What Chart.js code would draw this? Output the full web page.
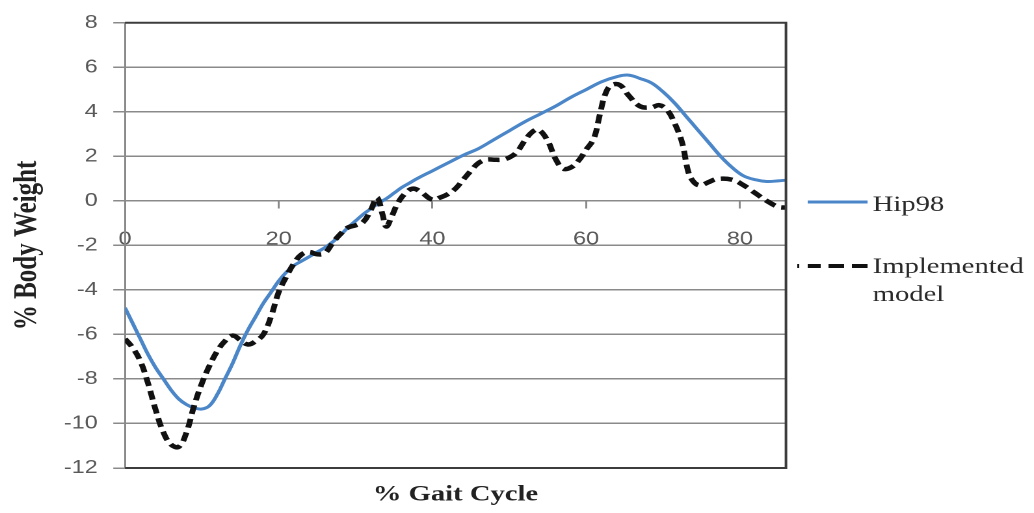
<!DOCTYPE html>
<html>
<head>
<meta charset="utf-8">
<script src="https://cdn.jsdelivr.net/npm/chart.js@4.4.1/dist/chart.umd.min.js"></script>
<style>
  html, body { margin: 0; padding: 0; background: #ffffff; overflow: hidden; }
  #wrap { position: absolute; left: 0; top: 0; width: 795px; height: 513px;
          transform: scaleX(1.3006); transform-origin: 0 0; }
  canvas { display: block; }
</style>
</head>
<body>
<div id="wrap"><canvas id="c" width="795" height="513" style="width:795px;height:513px"></canvas></div>
<script>
// ---- data ----
const seriesNames = ['Hip98', 'Implemented model'];
const hipX = [0,1,2,3,4,5,6,7,8,9,10,11,12,13,14,15,16,17,18,19,20,21,22,23,24,25,26,27,28,29,30,31,32,33,34,35,36,37,38,40,42,44,46,48,50,52,54,56,58,60,62,64,65.5,67,68.5,70,71.5,73,74.5,76,77.5,79,80.5,82,83.5,85,86];
const hipY = [-4.8,-5.5,-6.2,-6.9,-7.5,-8.0,-8.5,-8.9,-9.15,-9.3,-9.35,-9.2,-8.7,-8.0,-7.3,-6.5,-5.8,-5.2,-4.6,-4.1,-3.6,-3.2,-2.9,-2.7,-2.5,-2.3,-2.1,-1.85,-1.55,-1.2,-0.9,-0.6,-0.35,-0.1,0.1,0.35,0.6,0.8,1.0,1.35,1.7,2.05,2.35,2.75,3.15,3.55,3.9,4.25,4.65,5.0,5.35,5.58,5.65,5.5,5.3,4.9,4.4,3.8,3.2,2.6,2.0,1.5,1.12,0.95,0.87,0.9,0.93];
const modelX = [0,1,2,3,4,5,6,7,8,9,10,11,12,13,14,15,16,17,18,19,20,21,22,23,24,25,26,27,28,29,30,31,32,32.8,33.5,34,34.7,35.5,36.5,37.5,38.5,40,41,42,43,44,45,46,47,48,49,50,51,52,53,53.8,55,56,57,58,59,60,61,61.8,62.5,63.3,64.4,65.5,67,68.5,69.5,70.5,71.5,72.5,73.3,74,74.8,76,77,79,80.5,82,83.5,85,86];
const modelY = [-6.2,-6.6,-7.2,-8.2,-9.4,-10.4,-10.95,-11.05,-10.4,-9.2,-8.2,-7.4,-6.75,-6.3,-6.05,-6.25,-6.45,-6.3,-6.0,-5.2,-4.1,-3.4,-2.8,-2.4,-2.3,-2.4,-2.35,-1.9,-1.5,-1.2,-1.1,-0.95,-0.4,0.15,-0.6,-1.15,-0.7,-0.1,0.35,0.55,0.4,0.05,0.15,0.3,0.55,0.95,1.35,1.7,1.85,1.85,1.85,1.95,2.2,2.7,3.1,3.2,2.7,1.9,1.45,1.5,1.8,2.3,2.8,3.9,4.8,5.2,5.2,4.75,4.25,4.2,4.3,4.1,3.5,2.6,1.3,0.85,0.7,0.85,0.98,0.95,0.7,0.35,0.0,-0.27,-0.3];
const xMin = 0, xMax = 86, xStep = 20;
const yMin = -12, yMax = 8, yStep = 2;
const xTitle = '% Gait Cycle';
const yTitle = '% Body Weight';

const toPts = (xs, ys) => xs.map((x, i) => ({ x: x, y: ys[i] }));

const tickFont = { family: '"Liberation Sans", Arial, sans-serif', size: 18 };
const serif = '"Liberation Serif", "Times New Roman", serif';
const gridColor = '#8a8a8a';

const frameAndLegend = {
  id: 'frameAndLegend',
  afterDatasetsDraw(chart) {
    const ctx = chart.ctx, a = chart.chartArea;
    ctx.save();
    ctx.strokeStyle = '#3c3c3c';
    ctx.lineWidth = 2;
    ctx.beginPath();
    ctx.moveTo(a.left, a.top); ctx.lineTo(a.right, a.top);
    ctx.lineTo(a.right, a.bottom); ctx.lineTo(a.left, a.bottom);
    ctx.stroke();
    ctx.restore();
  },
  afterDraw(chart) {
    const ctx = chart.ctx;
    ctx.save();
    // Hip98 sample
    ctx.strokeStyle = '#4a86c8';
    ctx.lineWidth = 3;
    ctx.beginPath(); ctx.moveTo(621, 202); ctx.lineTo(667, 202); ctx.stroke();
    // Implemented model sample
    ctx.strokeStyle = '#111111';
    ctx.lineWidth = 4;
    const segs = [[613, 614.5], [621, 631], [637, 649], [655, 667]];
    ctx.beginPath();
    segs.forEach(s => { ctx.moveTo(s[0], 266); ctx.lineTo(s[1], 266); });
    ctx.stroke();
    ctx.fillStyle = '#2a2a2a';
    ctx.font = '22px ' + serif;
    ctx.textBaseline = 'middle';
    ctx.textAlign = 'left';
    ctx.fillText(seriesNames[0], 671, 205);
    ctx.fillText('Implemented', 671, 267);
    ctx.fillText('model', 671, 295);
    ctx.restore();
  }
};

new Chart(document.getElementById('c'), {
  type: 'line',
  data: {
    datasets: [
      {
        label: seriesNames[0],
        data: toPts(hipX, hipY),
        xAxisID: 'x', yAxisID: 'y',
        borderColor: '#4a86c8',
        borderWidth: 3,
        pointRadius: 0,
        fill: false,
        tension: 0.4,
        order: 2
      },
      {
        label: seriesNames[1],
        data: toPts(modelX, modelY),
        xAxisID: 'x', yAxisID: 'y',
        borderColor: '#111111',
        borderWidth: 4.5,
        borderDash: [9, 5],
        pointRadius: 0,
        fill: false,
        tension: 0.4,
        order: 1
      }
    ]
  },
  options: {
    responsive: false,
    animation: false,
    devicePixelRatio: 2,
    layout: { padding: { left: 0, right: 190.7, top: 20, bottom: 0 } },
    plugins: {
      legend: { display: false },
      tooltip: { enabled: false }
    },
    scales: {
      x: {
        type: 'linear',
        position: { y: 0 },
        min: xMin, max: xMax,
        ticks: { stepSize: xStep, includeBounds: false, color: '#595959', font: tickFont, padding: 21, maxRotation: 0 },
        grid: { display: true, drawOnChartArea: false, drawTicks: true, tickLength: 7, color: gridColor, lineWidth: 1.5 },
        border: { display: true, color: gridColor, width: 1.5 }
      },
      x2: {
        type: 'linear',
        position: 'bottom',
        min: xMin, max: xMax,
        ticks: { display: false },
        grid: { display: false, drawTicks: false },
        border: { display: false },
        title: { display: true, text: xTitle, color: '#222222',
                 font: { family: serif, size: 22, weight: 'bold' },
                 padding: { top: 0, bottom: 5 } },
        afterFit(scale) { scale.height = 45; }
      },
      y: {
        type: 'linear',
        position: 'left',
        min: yMin, max: yMax,
        ticks: { stepSize: yStep, color: '#595959', font: tickFont, padding: 12 },
        grid: { color: gridColor, lineWidth: 1.5, tickLength: 9 },
        border: { display: true, color: gridColor, width: 1.5 },
        title: { display: true, text: yTitle, color: '#222222',
                 font: { family: serif, size: 25, weight: 'bold' },
                 padding: { top: 6, bottom: 0 } },
        afterFit(scale) { scale.width = 96.1; }
      }
    }
  },
  plugins: [frameAndLegend]
});
</script>
</body>
</html>
